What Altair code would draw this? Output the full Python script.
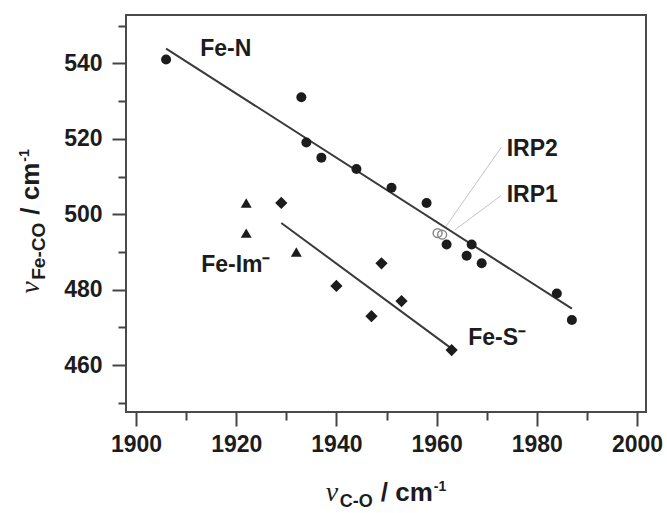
import altair as alt
import pandas as pd

# ---------------- data ----------------
fe_n_x = [1906, 1933, 1934, 1937, 1944, 1951, 1958, 1962, 1966, 1967, 1969, 1984, 1987]
fe_n_y = [541, 531, 519, 515, 512, 507, 503, 492, 489, 492, 487, 479, 472]
fe_im_x = [1922, 1922, 1932]
fe_im_y = [503, 495, 490]
fe_s_x = [1929, 1940, 1947, 1949, 1953, 1963]
fe_s_y = [503, 481, 473, 487, 477, 464]
irp_names = ["IRP2", "IRP1"]
irp_x = [1960.2, 1961.1]
irp_y = [495.0, 494.6]

fit_n_x = [1906, 1987]
fit_n_y = [543.9, 475.0]
fit_s_x = [1929, 1962.6]
fit_s_y = [497.7, 464.8]

leader_name = ["IRP2", "IRP2", "IRP1", "IRP1"]
leader_x = [1961.6, 1972.9, 1963.6, 1972.9]
leader_y = [496.3, 517.7, 495.8, 505.0]

label_text = ["Fe-N", "Fe-Im\u207b", "Fe-S\u207b", "IRP2", "IRP1"]
label_x = [1912.8, 1913.0, 1966.3, 1974.0, 1974.0]
label_y = [543.9, 486.5, 467.1, 517.4, 505.0]

x_major = [1900, 1920, 1940, 1960, 1980, 2000]
x_minor = [1910, 1930, 1950, 1970, 1990]
y_major = [460, 480, 500, 520, 540]
y_minor = [450, 470, 490, 510, 530, 550]

# ---------------- layout ----------------
W, H = 520, 397
FONT = "Liberation Sans"
INK = "#1c1c1c"
TICK = "#444444"

xs = alt.Scale(domain=[1898.0, 2001.8], nice=False, zero=False)
ys = alt.Scale(domain=[447.6, 552.8], nice=False, zero=False)

def axis(vals, orient, size, labels):
    kw = dict(values=vals, orient=orient, tickSize=size, tickWidth=2, tickColor=TICK,
              domain=False, grid=False, title=None)
    if labels:
        kw.update(format="d", labelFont=FONT, labelFontSize=23, labelFontWeight="bold", labelColor=INK,
                  labelPadding=7 if orient == "bottom" else 10, labelFlush=False, labelOverlap=False)
    else:
        kw.update(labels=False)
    return alt.Axis(**kw)

def XE(ax=None):
    return alt.X("x:Q", scale=xs, axis=ax)

def YE(ax=None):
    return alt.Y("y:Q", scale=ys, axis=ax)

df_n = pd.DataFrame({"x": fe_n_x, "y": fe_n_y})
df_im = pd.DataFrame({"x": fe_im_x, "y": fe_im_y})
df_s = pd.DataFrame({"x": fe_s_x, "y": fe_s_y})
df_irp = pd.DataFrame({"x": irp_x, "y": irp_y, "name": irp_names})
df_fit = pd.DataFrame({"x": fit_n_x + fit_s_x, "y": fit_n_y + fit_s_y,
                       "g": ["n", "n", "s", "s"]})
df_lead = pd.DataFrame({"x": leader_x, "y": leader_y, "g": leader_name})
df_lab = pd.DataFrame({"x": label_x, "y": label_y, "t": label_text})

circles = alt.Chart(df_n).mark_point(shape="circle", filled=True, size=100, color=INK, opacity=1).encode(
    XE(axis(x_major, "bottom", 14, True)), YE(axis(y_major, "left", 14, True)))
tris = alt.Chart(df_im).mark_point(shape="triangle-up", filled=True, size=120, color=INK, opacity=1).encode(
    XE(axis(x_minor, "bottom", 8, False)), YE(axis(y_minor, "left", 8, False)))
diamonds = alt.Chart(df_s).mark_point(shape="diamond", filled=True, size=150, color=INK, opacity=1).encode(
    XE(), YE())
fits = alt.Chart(df_fit).mark_line(color="#3a3a3a", strokeWidth=2).encode(XE(), YE(), detail="g:N")
leads = alt.Chart(df_lead).mark_line(color="#c4c4c4", strokeWidth=1).encode(XE(), YE(), detail="g:N")
irp = alt.Chart(df_irp).mark_point(shape="circle", filled=False, size=80, color="#8a8a8a",
                                   strokeWidth=1.5, opacity=1).encode(XE(), YE())
labels = alt.Chart(df_lab).mark_text(align="left", baseline="middle", font=FONT, fontSize=23,
                                     fontWeight="bold", color=INK).encode(XE(), YE(), text="t:N")

# ---------------- axis titles (nu with subscripts) ----------------
EM = {"C": .722, "O": .778, "F": .611, "e": .556, "-": .333, "/": .278, " ": .278,
      "c": .556, "m": .889, "1": .556, "\u03bd": .50}

def tw(t, s):
    return sum(EM.get(ch, .556) for ch in t) * s

def title_parts(sub, sub_size):
    # (text, size, style, baseline shift, gap after)
    return [("\u03bd", 28, "serif", 0, 0), (sub, sub_size, "bold", 6, 8),
            ("/ cm", 26, "bold", 0, 1), ("-1", 14, "bold", -10, 0)]

def font_kw(st):
    if st == "serif":
        return dict(font="Liberation Serif", fontStyle="italic")
    return dict(font=FONT, fontWeight="bold")

one = pd.DataFrame({"k": [0]})
title_layers = []

# x title: centred under the plot
parts = title_parts("C-O", 18)
total = sum(tw(t, s) + g for t, s, _, _, g in parts)
cx = W / 2 - total / 2
for t, s, st, shift, g in parts:
    title_layers.append(alt.Chart(one).mark_text(
        align="left", baseline="alphabetic", fontSize=s, color=INK, text=t, **font_kw(st)
    ).encode(x=alt.value(cx), y=alt.value(H + 89 + shift)))
    cx += tw(t, s) + g

# y title: rotated, reads bottom to top, centred on the plot
parts = title_parts("Fe-CO", 19)
total = sum(tw(t, s) + g for t, s, _, _, g in parts)
cy = H / 2 + 8 + total / 2
for t, s, st, shift, g in parts:
    title_layers.append(alt.Chart(one).mark_text(
        align="left", baseline="alphabetic", fontSize=s, color=INK, text=t, angle=270, **font_kw(st)
    ).encode(x=alt.value(-87 + shift), y=alt.value(cy)))
    cy -= tw(t, s) + g

chart = alt.layer(
    leads, fits, circles, tris, diamonds, irp, labels, *title_layers
).resolve_axis(x="independent", y="independent").properties(
    width=W, height=H,
    autosize=alt.AutoSizeParams(type="none"),
    padding={"left": 126, "top": 15, "right": 21, "bottom": 101},
    background="white",
).configure_view(stroke="#4a4a4a", strokeWidth=2)

chart.save("out.html", embed_options={"renderer": "svg", "actions": False})
